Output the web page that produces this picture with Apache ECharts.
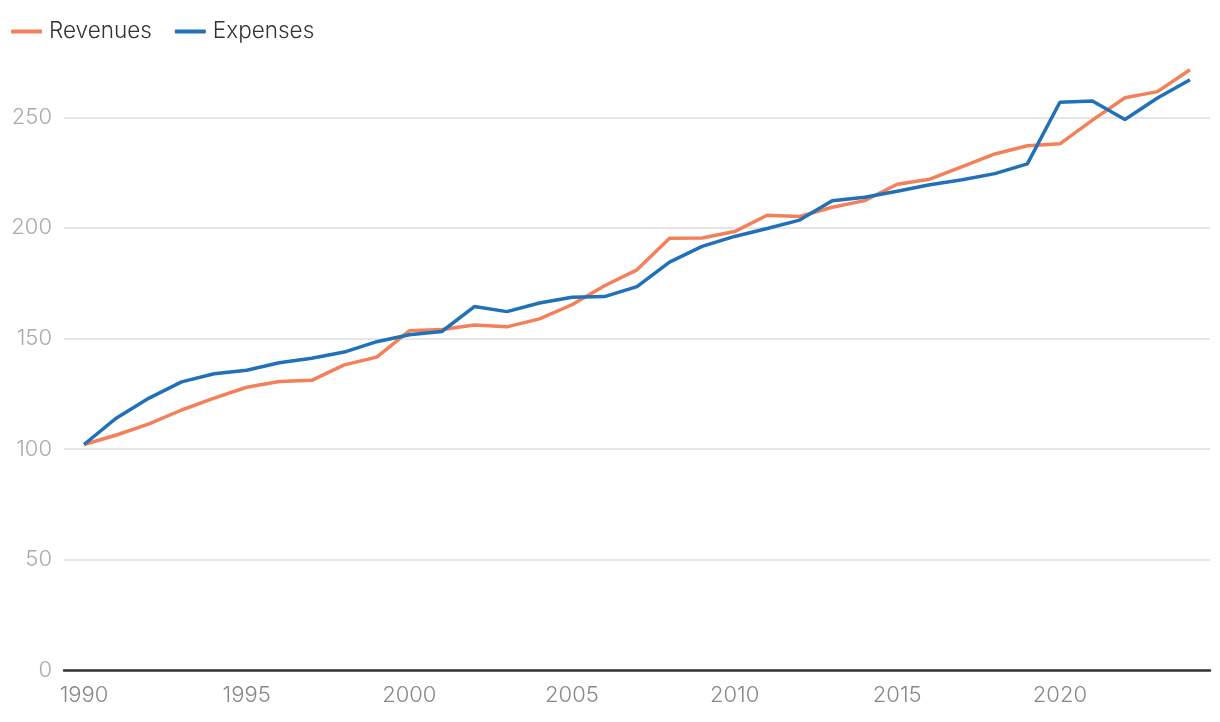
<!DOCTYPE html>
<html>
<head>
<meta charset="utf-8">
<script src="https://cdn.jsdelivr.net/npm/echarts@6/dist/echarts.min.js"></script>
<style>html,body{margin:0;padding:0;background:#fff}#c{width:1220px;height:722px}</style>
</head>
<body>
<div id="c"></div>
<script>
const years = [1990,1991,1992,1993,1994,1995,1996,1997,1998,1999,2000,2001,2002,2003,2004,2005,2006,2007,2008,2009,2010,2011,2012,2013,2014,2015,2016,2017,2018,2019,2020,2021,2022,2023,2024];
const revenues = [102,106.3,111.3,117.6,123,127.9,130.5,131,138,141.5,153.4,154,156,155.2,158.8,165.2,173.8,181,195.3,195.4,198.3,205.7,205.1,209.3,212.3,219.7,222,227.7,233.4,237.1,238,248.7,258.8,261.6,271.5];
const expenses = [102,114,123,130.3,134,135.6,139,141,143.8,148.5,151.6,153.1,164.4,162.1,166,168.6,168.9,173.4,184.5,191.6,196.1,199.7,203.5,212.2,213.8,216.5,219.5,221.7,224.5,228.9,256.8,257.4,249,258.7,267];
const xTickLabels = [1990,1995,2000,2005,2010,2015,2020];
const yTickLabels = [0,50,100,150,200,250];

const FONT = 'Inter';
const chart = echarts.init(document.getElementById('c'));
const toPairs = arr => years.map((y,i)=>[y,arr[i]]);
chart.setOption({
  animation:false,
  color:['#F4805A','#2270B8'],
  textStyle:{fontFamily:FONT},
  legend:{
    left:6, top:15, itemWidth:31, itemHeight:4, itemGap:23,
    icon:'roundRect',
    textStyle:{fontSize:22.5, color:'#333', fontFamily:FONT, fontWeight:300, padding:[0,0,0,2]},
    data:['Revenues','Expenses']
  },
  grid:{left:64,right:10,top:62,bottom:52,containLabel:false},
  xAxis:{
    type:'value', min:1989.385, max:2024.615,
    axisLine:{show:true,lineStyle:{color:'#333',width:2.5}},
    axisTick:{show:false},
    splitLine:{show:false},
    axisLabel:{customValues:xTickLabels, color:'#888', fontSize:22, fontWeight:300, fontFamily:FONT, margin:14, formatter:v=>String(v)}
  },
  yAxis:{
    type:'value', min:0, max:275, interval:50,
    axisLine:{show:false}, axisTick:{show:false},
    splitLine:{show:true, showMaxLine:false, lineStyle:{color:'#e6e6e6',width:2}},
    axisLabel:{color:'#aaa', fontSize:22, fontWeight:300, fontFamily:FONT, margin:12, customValues:yTickLabels}
  },
  series:[
    {name:'Revenues',type:'line',data:toPairs(revenues),showSymbol:false,symbol:'none',lineStyle:{width:3.5}},
    {name:'Expenses',type:'line',data:toPairs(expenses),showSymbol:false,symbol:'none',lineStyle:{width:3.5}}
  ]
});
</script>
</body>
</html>
